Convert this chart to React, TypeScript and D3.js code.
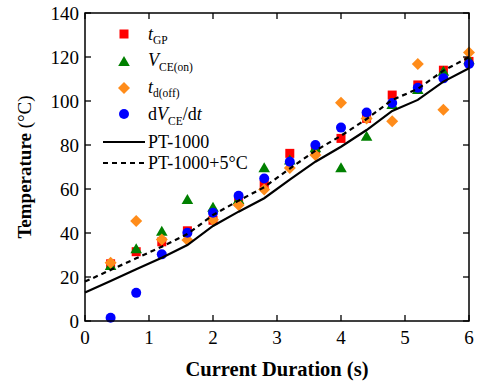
import React from "react";
import * as d3 from "d3";

const xs = [0.4, 0.8, 1.2, 1.6, 2.0, 2.4, 2.8, 3.2, 3.6, 4.0, 4.4, 4.8, 5.2, 5.6, 6.0];
const tGP = [26, 31.5, 36, 41, 45.8, 54.2, 61.8, 76.2, 78, 83, 92.1, 102.7, 107.3, 114, 118];
const vCEon = [25, 32.6, 40.6, 55, 51.5, 55, 69.4, 73, 78.5, 69.4, 83.8, 98.2, 105, 113.3, 118.5];
const tDoff = [26.5, 45.5, 37, 36.8, 46, 52.7, 59.8, 69.6, 75.5, 99.2, 92, 90.8, 116.8, 96, 122];
const dVdt = [1.5, 12.8, 30.3, 40.1, 49.2, 56.9, 64.8, 72.4, 80, 87.9, 94.8, 99.1, 106, 110.3, 116.8];
const ptX = [0, 0.4, 0.8, 1.2, 1.6, 2.0, 2.4, 2.8, 3.2, 3.6, 4.0, 4.4, 4.8, 5.2, 5.6, 6.0];
const pt1000 = [12.9, 18.2, 23.5, 28.8, 34.5, 43.2, 49.7, 55.8, 64.3, 72.4, 79.2, 86.8, 95.5, 100.5, 108.8, 114.9];
const ptOffset = 5;
const xTicks = [0, 1, 2, 3, 4, 5, 6];
const yTicks = [0, 20, 40, 60, 80, 100, 120, 140];

const RED = "#ff0000";
const GREEN = "#008000";
const ORANGE = "#ff8c1a";
const BLUE = "#0000ff";
const FONT = "'Liberation Serif', 'Times New Roman', serif";

export default function App() {
  const W = 477, H = 388;
  const L = 85, R = 469, T = 13, B = 321;
  const x = d3.scaleLinear().domain([0, 6]).range([L, R]);
  const y = d3.scaleLinear().domain([0, 140]).range([B, T]);
  const line = d3.line<number>().x((_, i) => x(ptX[i])).y((d) => y(d));

  const sq = 9;
  const square = (cx: number, cy: number, k: string) => (
    <rect key={k} x={cx - sq / 2} y={cy - sq / 2} width={sq} height={sq} fill={RED} />
  );
  const tri = (cx: number, cy: number, k: string) => (
    <path key={k} d={`M${cx},${cy - 6} L${cx + 5.8},${cy + 4} L${cx - 5.8},${cy + 4} Z`} fill={GREEN} />
  );
  const dia = (cx: number, cy: number, k: string) => (
    <path key={k} d={`M${cx},${cy - 6} L${cx + 6},${cy} L${cx},${cy + 6} L${cx - 6},${cy} Z`} fill={ORANGE} />
  );
  const circ = (cx: number, cy: number, k: string) => (
    <circle key={k} cx={cx} cy={cy} r={5} fill={BLUE} />
  );

  const lgX = 124;
  const txX = 148;
  const fs = 18;
  const sub = 11.5;

  return (
    <svg width={W} height={H} style={{ position: "absolute", left: 0, top: 0, background: "#fff" }} fontFamily={FONT}>
      <rect x={0} y={0} width={W} height={H} fill="#fff" />
      {/* data */}
      <g>{tGP.map((v, i) => square(x(xs[i]), y(v), "r" + i))}</g>
      <g>{vCEon.map((v, i) => tri(x(xs[i]), y(v), "g" + i))}</g>
      <g>{tDoff.map((v, i) => dia(x(xs[i]), y(v), "o" + i))}</g>
      <g>{dVdt.map((v, i) => circ(x(xs[i]), y(v), "b" + i))}</g>
      <path d={line(pt1000) || ""} fill="none" stroke="#000" strokeWidth={2.2} />
      <path d={line(pt1000.map((v) => v + ptOffset)) || ""} fill="none" stroke="#000" strokeWidth={2.2} strokeDasharray="5,4" />

      {/* frame */}
      <rect x={L} y={T} width={R - L} height={B - T} fill="none" stroke="#000" strokeWidth={1.5} />
      {xTicks.map((t) => (
        <g key={"xt" + t}>
          <line x1={x(t)} x2={x(t)} y1={B} y2={B - 6} stroke="#000" strokeWidth={1.3} />
          <line x1={x(t)} x2={x(t)} y1={T} y2={T + 6} stroke="#000" strokeWidth={1.3} />
          <text x={x(t)} y={B + 23} textAnchor="middle" fontSize={19}>{t}</text>
        </g>
      ))}
      {yTicks.map((t) => (
        <g key={"yt" + t}>
          <line x1={L} x2={L + 6} y1={y(t)} y2={y(t)} stroke="#000" strokeWidth={1.3} />
          <line x1={R} x2={R - 6} y1={y(t)} y2={y(t)} stroke="#000" strokeWidth={1.3} />
          <text x={L - 6} y={y(t) + 6.5} textAnchor="end" fontSize={19}>{t}</text>
        </g>
      ))}
      <text x={(L + R) / 2} y={376} textAnchor="middle" fontSize={20.5} fontWeight="bold">Current Duration (s)</text>
      <text transform={`translate(31,${(T + B) / 2}) rotate(-90)`} textAnchor="middle" fontSize={19}>
        <tspan fontWeight="bold">Temperature</tspan> (°C)
      </text>

      {/* legend */}
      {square(lgX, 34, "lr")}
      <text x={txX} y={40} fontSize={fs}>
        <tspan fontStyle="italic">t</tspan>
        <tspan fontSize={sub} dy={4}>GP</tspan>
      </text>
      {tri(lgX, 62, "lg")}
      <text x={txX} y={66} fontSize={fs}>
        <tspan fontStyle="italic">V</tspan>
        <tspan fontSize={sub} dy={5}>CE(on)</tspan>
      </text>
      {dia(lgX, 88, "lo")}
      <text x={txX} y={93} fontSize={fs}>
        <tspan fontStyle="italic">t</tspan>
        <tspan fontSize={sub} dy={4}>d(off)</tspan>
      </text>
      {circ(lgX, 114, "lb")}
      <text x={txX} y={120} fontSize={fs}>
        <tspan>d</tspan>
        <tspan fontStyle="italic">V</tspan>
        <tspan fontSize={sub} dy={5}>CE</tspan>
        <tspan dy={-5}>/d</tspan>
        <tspan fontStyle="italic">t</tspan>
      </text>
      <line x1={103} x2={145} y1={142} y2={142} stroke="#000" strokeWidth={2.2} />
      <text x={txX} y={148} fontSize={fs}>PT-1000</text>
      <line x1={103} x2={145} y1={163} y2={163} stroke="#000" strokeWidth={2.2} strokeDasharray="5,4" />
      <text x={txX} y={169} fontSize={fs}>PT-1000+5°C</text>
    </svg>
  );
}
